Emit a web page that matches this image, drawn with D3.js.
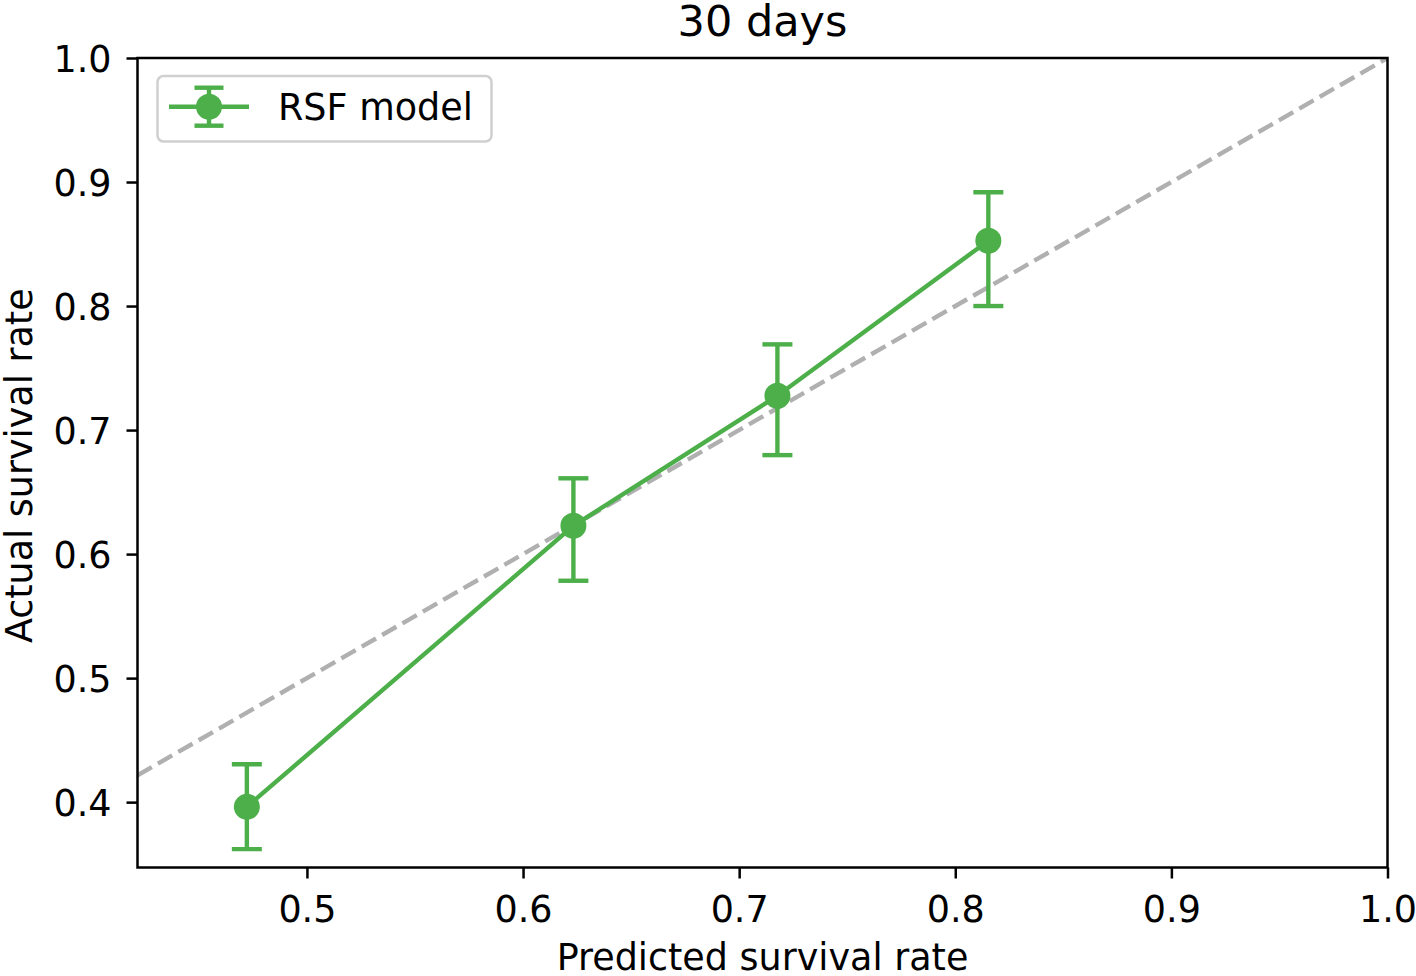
<!DOCTYPE html>
<html>
<head>
<meta charset="utf-8">
<script src="https://cdn.jsdelivr.net/npm/d3@7"></script>
<style>
  html, body { margin: 0; padding: 0; background: #fff; }
  svg { display: block; }
  text { font-family: "DejaVu Sans", sans-serif; fill: #000; }
</style>
</head>
<body>
<svg id="chart" width="1416" height="976"></svg>
<script>
// ---- data ----
const titleText = "30 days";
const xLabel = "Predicted survival rate";
const yLabel = "Actual survival rate";
const seriesName = "RSF model";
const predicted = [0.4722, 0.6233, 0.7177, 0.8153];
const actual    = [0.3962, 0.6228, 0.7277, 0.8527];
const lower     = [0.3621, 0.5785, 0.6798, 0.8000];
const upper     = [0.4306, 0.6611, 0.7691, 0.8917];
const xTicks = [0.5, 0.6, 0.7, 0.8, 0.9, 1.0];
const yTicks = [0.4, 0.5, 0.6, 0.7, 0.8, 0.9, 1.0];
const xDomain = [0.4216, 1.0];
const yDomain = [0.3473, 1.0];

// ---- layout ----
const mLeft = 137.5, mRight = 1387.5, mTop = 58, mBottom = 867.5;
const green = "#4daf4a";
const gray = "#b0b0b0";
const lw = 4.4;

const svg = d3.select("#chart");
const x = d3.scaleLinear().domain(xDomain).range([mLeft, mRight]);
const y = d3.scaleLinear().domain(yDomain).range([mBottom, mTop]);

svg.append("defs").append("clipPath").attr("id", "clip")
  .append("rect").attr("x", mLeft).attr("y", mTop)
  .attr("width", mRight - mLeft).attr("height", mBottom - mTop);

const plot = svg.append("g").attr("clip-path", "url(#clip)");

// diagonal reference
plot.append("line")
  .attr("x1", x(xDomain[0])).attr("y1", y(xDomain[0]))
  .attr("x2", x(1.0)).attr("y2", y(1.0))
  .attr("stroke", gray).attr("stroke-width", lw)
  .attr("stroke-dasharray", "16.5,7");

const pts = predicted.map((p, i) => ({ p, a: actual[i], lo: lower[i], hi: upper[i] }));

// connecting line
plot.append("path")
  .datum(pts)
  .attr("fill", "none").attr("stroke", green).attr("stroke-width", lw)
  .attr("d", d3.line().x(d => x(d.p)).y(d => y(d.a)));

// error bars
const capHalf = 15;
const eb = plot.append("g").selectAll("g").data(pts).join("g");
eb.append("line")
  .attr("x1", d => x(d.p)).attr("x2", d => x(d.p))
  .attr("y1", d => y(d.lo)).attr("y2", d => y(d.hi))
  .attr("stroke", green).attr("stroke-width", lw);
eb.append("line")
  .attr("x1", d => x(d.p) - capHalf).attr("x2", d => x(d.p) + capHalf)
  .attr("y1", d => y(d.lo)).attr("y2", d => y(d.lo))
  .attr("stroke", green).attr("stroke-width", lw);
eb.append("line")
  .attr("x1", d => x(d.p) - capHalf).attr("x2", d => x(d.p) + capHalf)
  .attr("y1", d => y(d.hi)).attr("y2", d => y(d.hi))
  .attr("stroke", green).attr("stroke-width", lw);

// markers
plot.append("g").selectAll("circle").data(pts).join("circle")
  .attr("cx", d => x(d.p)).attr("cy", d => y(d.a)).attr("r", 13)
  .attr("fill", green);

// axes
const tickFont = 36.5;
const xAxis = d3.axisBottom(x).tickValues(xTicks).tickFormat(d3.format(".1f"))
  .tickSize(11).tickPadding(18).tickSizeOuter(0);
const yAxis = d3.axisLeft(y).tickValues(yTicks).tickFormat(d3.format(".1f"))
  .tickSize(11).tickPadding(15).tickSizeOuter(0);

const gx = svg.append("g").attr("transform", `translate(0,${mBottom})`).call(xAxis);
const gy = svg.append("g").attr("transform", `translate(${mLeft},0)`).call(yAxis);
[gx, gy].forEach(g => {
  g.select(".domain").remove();
  g.selectAll(".tick line").attr("stroke", "#000").attr("stroke-width", 2.5);
  g.selectAll(".tick text").attr("font-family", "DejaVu Sans").attr("font-size", tickFont).attr("fill", "#000");
});
gx.selectAll(".tick text").attr("dy", "0.71em");
gy.selectAll(".tick text").attr("dy", "0.36em");

// frame
svg.append("rect")
  .attr("x", mLeft).attr("y", mTop).attr("width", mRight - mLeft).attr("height", mBottom - mTop)
  .attr("fill", "none").attr("stroke", "#000").attr("stroke-width", 2.5);

// title and labels
svg.append("text").attr("x", (mLeft + mRight) / 2).attr("y", 36)
  .attr("text-anchor", "middle").attr("font-size", 43).text(titleText);
svg.append("text").attr("x", (mLeft + mRight) / 2).attr("y", 970)
  .attr("text-anchor", "middle").attr("font-size", tickFont).text(xLabel);
svg.append("text")
  .attr("transform", `translate(32,${(mTop + mBottom) / 2 + 3}) rotate(-90)`)
  .attr("text-anchor", "middle").attr("font-size", tickFont).text(yLabel);

// legend
const lg = svg.append("g");
lg.append("rect").attr("x", 157.5).attr("y", 76).attr("width", 334).attr("height", 65.5)
  .attr("rx", 6).attr("ry", 6)
  .attr("fill", "#fff").attr("fill-opacity", 0.8)
  .attr("stroke", "#d0d0d0").attr("stroke-width", 2.5);
const ly = 106.7, lx = 209;
lg.append("line").attr("x1", 169).attr("x2", 249).attr("y1", ly).attr("y2", ly)
  .attr("stroke", green).attr("stroke-width", lw);
lg.append("line").attr("x1", lx).attr("x2", lx).attr("y1", ly - 19).attr("y2", ly + 19)
  .attr("stroke", green).attr("stroke-width", lw);
[ly - 19, ly + 19].forEach(cy => {
  lg.append("line").attr("x1", lx - 14.5).attr("x2", lx + 14.5).attr("y1", cy).attr("y2", cy)
    .attr("stroke", green).attr("stroke-width", lw);
});
lg.append("circle").attr("cx", lx).attr("cy", ly).attr("r", 13).attr("fill", green);
lg.append("text").attr("x", 278).attr("y", 120).attr("font-size", tickFont).text(seriesName);
</script>
</body>
</html>
